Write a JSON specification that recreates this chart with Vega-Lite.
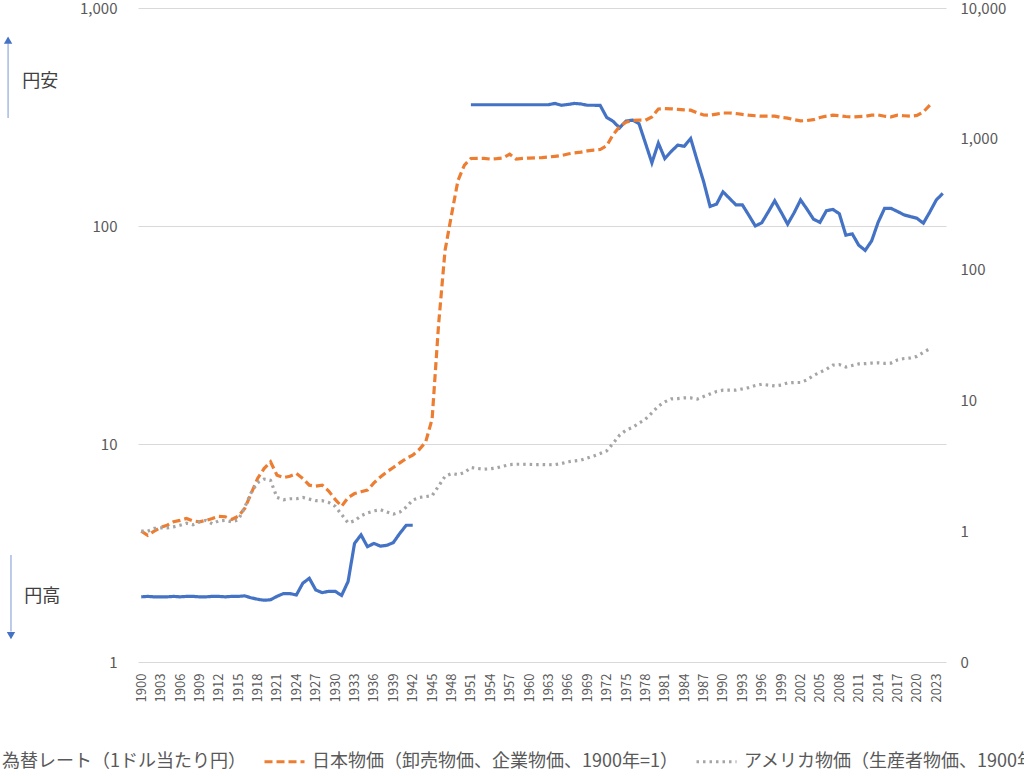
{
  "$schema": "https://vega.github.io/schema/vega-lite/v6.json",
  "width": 808,
  "height": 654,
  "autosize": {"type": "none"},
  "padding": {"left": 138, "top": 8, "right": 78, "bottom": 114},
  "background": "white",
  "config": {
    "view": {"stroke": null},
    "font": "Noto Sans CJK JP",
    "axis": {"labelColor": "#595959", "labelFont": "Noto Sans CJK JP"},
    "axisX": {"labelOverlap": false, "labelFlush": false, "labelBound": false},
    "legend": {
      "orient": "none",
      "direction": "horizontal",
      "legendX": -185,
      "legendY": 732,
      "padding": 0,
      "symbolType": "stroke",
      "symbolSize": 1600,
      "symbolStrokeWidth": 3,
      "labelFontSize": 18,
      "labelFont": "Noto Sans CJK JP",
      "labelColor": "#595959",
      "labelLimit": 1000,
      "labelOffset": 6,
      "columnPadding": 12
    }
  },
  "data": {
    "values": [
      {"year": 1900, "fx": 1.99, "jp": 1.0, "us": 1.0},
      {"year": 1901, "fx": 2.0, "jp": 0.93, "us": 1.0},
      {"year": 1902, "fx": 1.99, "jp": 1.0, "us": 1.05},
      {"year": 1903, "fx": 1.99, "jp": 1.07, "us": 1.06},
      {"year": 1904, "fx": 1.99, "jp": 1.11, "us": 1.06},
      {"year": 1905, "fx": 2.0, "jp": 1.18, "us": 1.08},
      {"year": 1906, "fx": 1.99, "jp": 1.21, "us": 1.11},
      {"year": 1907, "fx": 2.0, "jp": 1.25, "us": 1.15},
      {"year": 1908, "fx": 2.0, "jp": 1.2, "us": 1.12},
      {"year": 1909, "fx": 1.99, "jp": 1.18, "us": 1.18},
      {"year": 1910, "fx": 1.99, "jp": 1.21, "us": 1.21},
      {"year": 1911, "fx": 2.0, "jp": 1.25, "us": 1.14},
      {"year": 1912, "fx": 2.0, "jp": 1.3, "us": 1.2},
      {"year": 1913, "fx": 1.99, "jp": 1.29, "us": 1.21},
      {"year": 1914, "fx": 2.0, "jp": 1.23, "us": 1.18},
      {"year": 1915, "fx": 2.0, "jp": 1.3, "us": 1.22},
      {"year": 1916, "fx": 2.01, "jp": 1.49, "us": 1.52},
      {"year": 1917, "fx": 1.97, "jp": 1.94, "us": 1.97},
      {"year": 1918, "fx": 1.94, "jp": 2.53, "us": 2.35},
      {"year": 1919, "fx": 1.92, "jp": 3.01, "us": 2.5},
      {"year": 1920, "fx": 1.93, "jp": 3.39, "us": 2.45},
      {"year": 1921, "fx": 2.0, "jp": 2.68, "us": 1.81},
      {"year": 1922, "fx": 2.06, "jp": 2.57, "us": 1.74},
      {"year": 1923, "fx": 2.06, "jp": 2.63, "us": 1.77},
      {"year": 1924, "fx": 2.03, "jp": 2.76, "us": 1.77},
      {"year": 1925, "fx": 2.3, "jp": 2.53, "us": 1.81},
      {"year": 1926, "fx": 2.42, "jp": 2.25, "us": 1.76},
      {"year": 1927, "fx": 2.14, "jp": 2.21, "us": 1.71},
      {"year": 1928, "fx": 2.08, "jp": 2.25, "us": 1.71},
      {"year": 1929, "fx": 2.11, "jp": 2.03, "us": 1.66},
      {"year": 1930, "fx": 2.11, "jp": 1.75, "us": 1.55},
      {"year": 1931, "fx": 2.02, "jp": 1.55, "us": 1.34},
      {"year": 1932, "fx": 2.34, "jp": 1.81, "us": 1.16},
      {"year": 1933, "fx": 3.5, "jp": 1.94, "us": 1.2},
      {"year": 1934, "fx": 3.83, "jp": 2.0, "us": 1.31},
      {"year": 1935, "fx": 3.38, "jp": 2.06, "us": 1.38},
      {"year": 1936, "fx": 3.5, "jp": 2.34, "us": 1.43},
      {"year": 1937, "fx": 3.4, "jp": 2.6, "us": 1.46},
      {"year": 1938, "fx": 3.43, "jp": 2.84, "us": 1.4},
      {"year": 1939, "fx": 3.53, "jp": 3.07, "us": 1.35},
      {"year": 1940, "fx": 3.89, "jp": 3.33, "us": 1.4},
      {"year": 1941, "fx": 4.24, "jp": 3.6, "us": 1.53},
      {"year": 1942, "fx": 4.24, "jp": 3.81, "us": 1.73},
      {"year": 1943, "fx": null, "jp": 4.21, "us": 1.81},
      {"year": 1944, "fx": null, "jp": 4.8, "us": 1.84},
      {"year": 1945, "fx": null, "jp": 7.2, "us": 1.87},
      {"year": 1946, "fx": null, "jp": 38, "us": 2.21},
      {"year": 1947, "fx": null, "jp": 140, "us": 2.63},
      {"year": 1948, "fx": null, "jp": 262, "us": 2.76},
      {"year": 1949, "fx": null, "jp": 480, "us": 2.71},
      {"year": 1950, "fx": null, "jp": 630, "us": 2.81},
      {"year": 1951, "fx": 360, "jp": 707, "us": 3.07},
      {"year": 1952, "fx": 360, "jp": 709, "us": 3.02},
      {"year": 1953, "fx": 360, "jp": 709, "us": 2.98},
      {"year": 1954, "fx": 360, "jp": 700, "us": 3.0},
      {"year": 1955, "fx": 360, "jp": 705, "us": 3.05},
      {"year": 1956, "fx": 360, "jp": 715, "us": 3.14},
      {"year": 1957, "fx": 360, "jp": 763, "us": 3.23},
      {"year": 1958, "fx": 360, "jp": 700, "us": 3.25},
      {"year": 1959, "fx": 360, "jp": 708, "us": 3.25},
      {"year": 1960, "fx": 360, "jp": 712, "us": 3.24},
      {"year": 1961, "fx": 360, "jp": 715, "us": 3.23},
      {"year": 1962, "fx": 360, "jp": 718, "us": 3.23},
      {"year": 1963, "fx": 360, "jp": 725, "us": 3.22},
      {"year": 1964, "fx": 365, "jp": 735, "us": 3.23},
      {"year": 1965, "fx": 358, "jp": 745, "us": 3.29},
      {"year": 1966, "fx": 361, "jp": 765, "us": 3.39},
      {"year": 1967, "fx": 365, "jp": 780, "us": 3.45},
      {"year": 1968, "fx": 363, "jp": 790, "us": 3.49},
      {"year": 1969, "fx": 358, "jp": 808, "us": 3.62},
      {"year": 1970, "fx": 358, "jp": 820, "us": 3.76},
      {"year": 1971, "fx": 357.6, "jp": 828, "us": 3.92},
      {"year": 1972, "fx": 315, "jp": 885, "us": 4.11},
      {"year": 1973, "fx": 302, "jp": 1075, "us": 4.69},
      {"year": 1974, "fx": 282, "jp": 1240, "us": 5.42},
      {"year": 1975, "fx": 303, "jp": 1340, "us": 5.92},
      {"year": 1976, "fx": 306, "jp": 1380, "us": 6.21},
      {"year": 1977, "fx": 295, "jp": 1390, "us": 6.7},
      {"year": 1978, "fx": 240, "jp": 1385, "us": 7.18},
      {"year": 1979, "fx": 195, "jp": 1470, "us": 8.03},
      {"year": 1980, "fx": 240, "jp": 1690, "us": 9.03},
      {"year": 1981, "fx": 204, "jp": 1700, "us": 9.74},
      {"year": 1982, "fx": 220, "jp": 1695, "us": 10.27},
      {"year": 1983, "fx": 235, "jp": 1680, "us": 10.33},
      {"year": 1984, "fx": 232, "jp": 1665, "us": 10.45},
      {"year": 1985, "fx": 252, "jp": 1655, "us": 10.45},
      {"year": 1986, "fx": 200, "jp": 1580, "us": 10.23},
      {"year": 1987, "fx": 160, "jp": 1520, "us": 10.7},
      {"year": 1988, "fx": 123, "jp": 1515, "us": 11.2},
      {"year": 1989, "fx": 126, "jp": 1545, "us": 11.7},
      {"year": 1990, "fx": 143.5, "jp": 1575, "us": 11.97},
      {"year": 1991, "fx": 134, "jp": 1575, "us": 11.97},
      {"year": 1992, "fx": 125, "jp": 1560, "us": 12.0},
      {"year": 1993, "fx": 125, "jp": 1535, "us": 12.24},
      {"year": 1994, "fx": 112, "jp": 1515, "us": 12.53},
      {"year": 1995, "fx": 100, "jp": 1500, "us": 12.98},
      {"year": 1996, "fx": 103.5, "jp": 1489, "us": 13.3},
      {"year": 1997, "fx": 116, "jp": 1490, "us": 13.1},
      {"year": 1998, "fx": 130.5, "jp": 1489, "us": 12.9},
      {"year": 1999, "fx": 115.6, "jp": 1455, "us": 13.1},
      {"year": 2000, "fx": 102, "jp": 1440, "us": 13.6},
      {"year": 2001, "fx": 114.9, "jp": 1400, "us": 13.7},
      {"year": 2002, "fx": 131.7, "jp": 1371, "us": 13.7},
      {"year": 2003, "fx": 119.4, "jp": 1380, "us": 14.36},
      {"year": 2004, "fx": 107.5, "jp": 1400, "us": 15.5},
      {"year": 2005, "fx": 104, "jp": 1455, "us": 16.4},
      {"year": 2006, "fx": 117.5, "jp": 1490, "us": 17.3},
      {"year": 2007, "fx": 119.2, "jp": 1515, "us": 18.6},
      {"year": 2008, "fx": 113.8, "jp": 1500, "us": 18.8},
      {"year": 2009, "fx": 90.8, "jp": 1480, "us": 18.0},
      {"year": 2010, "fx": 92, "jp": 1470, "us": 18.5},
      {"year": 2011, "fx": 81.6, "jp": 1480, "us": 19.0},
      {"year": 2012, "fx": 77.3, "jp": 1487, "us": 19.1},
      {"year": 2013, "fx": 85.5, "jp": 1515, "us": 19.3},
      {"year": 2014, "fx": 104, "jp": 1520, "us": 19.4},
      {"year": 2015, "fx": 120.5, "jp": 1487, "us": 19.2},
      {"year": 2016, "fx": 120.4, "jp": 1471, "us": 19.3},
      {"year": 2017, "fx": 116.6, "jp": 1515, "us": 20.4},
      {"year": 2018, "fx": 112.5, "jp": 1500, "us": 20.9},
      {"year": 2019, "fx": 110.4, "jp": 1487, "us": 21.1},
      {"year": 2020, "fx": 108.5, "jp": 1510, "us": 21.7},
      {"year": 2021, "fx": 103, "jp": 1607, "us": 23.3},
      {"year": 2022, "fx": 116, "jp": 1806, "us": 24.9},
      {"year": 2023, "fx": 131.7, "jp": null, "us": null},
      {"year": 2024, "fx": 141, "jp": null, "us": null}
    ]
  },
  "layer": [
    {
      "layer": [
        {
          "transform": [{"fold": ["fx"], "as": ["series", "value"]}],
          "mark": {"type": "line", "strokeWidth": 3.2, "invalid": "break-paths-filter-domains"},
          "encoding": {
            "x": {
              "field": "year",
              "type": "quantitative",
              "scale": {"domain": [1899.5, 2024.5], "nice": false, "zero": false},
              "axis": {
                "title": null,
                "values": [1900, 1903, 1906, 1909, 1912, 1915, 1918, 1921, 1924, 1927, 1930, 1933, 1936, 1939, 1942, 1945, 1948, 1951, 1954, 1957, 1960, 1963, 1966, 1969, 1972, 1975, 1978, 1981, 1984, 1987, 1990, 1993, 1996, 1999, 2002, 2005, 2008, 2011, 2014, 2017, 2020, 2023],
                "tickCount": 200,
                "format": "d",
                "labelAngle": -90,
                "labelFontSize": 13,
                "labelPadding": 11,
                "labelFlush": false,
                "labelOverlap": false,
                "ticks": false,
                "domain": false,
                "grid": false
              }
            },
            "y": {
              "field": "value",
              "type": "quantitative",
              "scale": {"type": "log", "domain": [1, 1000], "nice": false},
              "axis": {
                "orient": "left",
                "title": null,
                "values": [1, 10, 100, 1000],
                "format": ",",
                "labelFontSize": 15,
                "labelPadding": 21,
                "ticks": false,
                "domain": false,
                "grid": true,
                "gridColor": "#d9d9d9",
                "gridWidth": 1
              }
            },
            "color": {
              "field": "series",
              "type": "nominal",
              "scale": {"domain": ["fx", "jp", "us"], "range": ["#4472c4", "#ed7d31", "#a5a5a5"]},
              "legend": {"title": null, "labelExpr": "datum.label == 'fx' ? '為替レート（1ドル当たり円）' : datum.label == 'jp' ? '日本物価（卸売物価、企業物価、1900年=1）' : 'アメリカ物価（生産者物価、1900年=1）'"}
            },
            "strokeDash": {
              "field": "series",
              "type": "nominal",
              "scale": {"domain": ["fx", "jp", "us"], "range": [[1, 0], [8, 4], [2.5, 4]]},
              "legend": {"title": null, "labelExpr": "datum.label == 'fx' ? '為替レート（1ドル当たり円）' : datum.label == 'jp' ? '日本物価（卸売物価、企業物価、1900年=1）' : 'アメリカ物価（生産者物価、1900年=1）'"}
            }
          }
        },
        {
          "data": {"values": [{}]},
          "mark": {"type": "text", "text": "円安", "fontSize": 18, "color": "#404040", "align": "left", "baseline": "middle", "font": "Noto Sans CJK JP"},
          "encoding": {
            "x": {"datum": 1881.6, "type": "quantitative", "axis": {"title": null}},
            "y": {"datum": 457, "type": "quantitative", "axis": {"title": null}}
          }
        },
        {
          "data": {"values": [{}]},
          "mark": {"type": "text", "text": "円高", "fontSize": 18, "color": "#404040", "align": "left", "baseline": "middle", "font": "Noto Sans CJK JP"},
          "encoding": {
            "x": {"datum": 1881.9, "type": "quantitative", "axis": {"title": null}},
            "y": {"datum": 1.99, "type": "quantitative", "axis": {"title": null}}
          }
        },
        {
          "data": {"values": [{}]},
          "mark": {"type": "rule", "color": "#8faadc", "strokeWidth": 1.2},
          "encoding": {
            "x": {"datum": 1879.4, "type": "quantitative", "axis": {"title": null}},
            "y": {"datum": 313, "type": "quantitative", "axis": {"title": null}},
            "y2": {"datum": 690}
          }
        },
        {
          "data": {"values": [{}]},
          "mark": {"type": "point", "shape": "triangle-up", "filled": true, "color": "#4472c4", "size": 70, "opacity": 1},
          "encoding": {
            "x": {"datum": 1879.4, "type": "quantitative", "axis": {"title": null}},
            "y": {"datum": 713, "type": "quantitative", "axis": {"title": null}}
          }
        },
        {
          "data": {"values": [{}]},
          "mark": {"type": "rule", "color": "#8faadc", "strokeWidth": 1.2},
          "encoding": {
            "x": {"datum": 1879.85, "type": "quantitative", "axis": {"title": null}},
            "y": {"datum": 3.1, "type": "quantitative", "axis": {"title": null}},
            "y2": {"datum": 1.38}
          }
        },
        {
          "data": {"values": [{}]},
          "mark": {"type": "point", "shape": "triangle-down", "filled": true, "color": "#4472c4", "size": 70, "opacity": 1},
          "encoding": {
            "x": {"datum": 1879.85, "type": "quantitative", "axis": {"title": null}},
            "y": {"datum": 1.32, "type": "quantitative", "axis": {"title": null}}
          }
        }
      ]
    },
    {
      "transform": [{"fold": ["jp", "us"], "as": ["series", "value"]}],
      "mark": {"type": "line", "strokeWidth": 3.2, "invalid": "break-paths-filter-domains"},
      "encoding": {
        "x": {
          "field": "year",
          "type": "quantitative",
          "scale": {"domain": [1899.5, 2024.5], "nice": false, "zero": false},
          "axis": {"title": null}
        },
        "y": {
          "field": "value",
          "type": "quantitative",
          "scale": {"type": "log", "domain": [0.1, 10000], "nice": false},
          "axis": {
            "orient": "right",
            "title": null,
            "values": [0.1, 1, 10, 100, 1000, 10000],
            "format": ",.0f",
            "labelFontSize": 15,
            "labelPadding": 14,
            "ticks": false,
            "domain": false,
            "grid": false
          }
        },
        "color": {
          "field": "series",
          "type": "nominal",
          "scale": {"domain": ["fx", "jp", "us"], "range": ["#4472c4", "#ed7d31", "#a5a5a5"]},
          "legend": {"title": null, "labelExpr": "datum.label == 'fx' ? '為替レート（1ドル当たり円）' : datum.label == 'jp' ? '日本物価（卸売物価、企業物価、1900年=1）' : 'アメリカ物価（生産者物価、1900年=1）'"}
        },
        "strokeDash": {
          "field": "series",
          "type": "nominal",
          "scale": {"domain": ["fx", "jp", "us"], "range": [[1, 0], [8, 4], [2.5, 4]]},
          "legend": {"title": null, "labelExpr": "datum.label == 'fx' ? '為替レート（1ドル当たり円）' : datum.label == 'jp' ? '日本物価（卸売物価、企業物価、1900年=1）' : 'アメリカ物価（生産者物価、1900年=1）'"}
        }
      }
    }
  ],
  "resolve": {"scale": {"y": "independent"}}
}
